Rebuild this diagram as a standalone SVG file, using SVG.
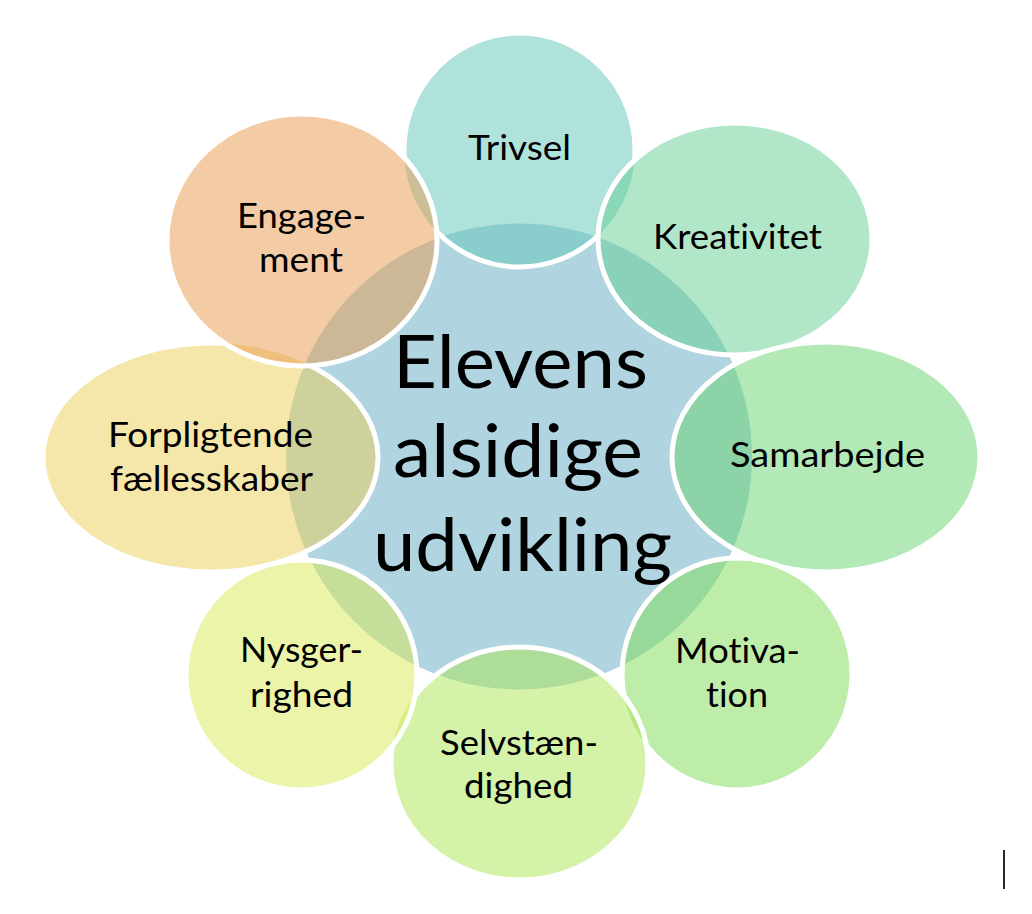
<svg xmlns="http://www.w3.org/2000/svg" xmlns:xlink="http://www.w3.org/1999/xlink" width="1032" height="914" viewBox="0 0 1032 914">
<style>
.lbl { font-family: Lato, "Liberation Sans", sans-serif; font-size: 35px; fill: #000; text-anchor: middle; font-variant-ligatures: none; font-feature-settings: "liga" 0, "clig" 0, "dlig" 0; }
.big { font-size: 74px; }
.ring { fill: none; stroke: #ffffff; stroke-width: 5; }
.fo { fill-opacity: 0.5; }
</style>
<defs>
<ellipse id="e0" cx="519.5" cy="150" rx="115.5" ry="117"/>
<ellipse id="e1" cx="735" cy="239" rx="137" ry="116"/>
<ellipse id="e2" cx="826" cy="457" rx="154" ry="115"/>
<ellipse id="e3" cx="737" cy="674" rx="115" ry="116"/>
<ellipse id="e4" cx="519.5" cy="763.5" rx="128.5" ry="116.5"/>
<ellipse id="e5" cx="301.5" cy="675" rx="115.5" ry="115"/>
<ellipse id="e6" cx="210.5" cy="457.5" rx="167.5" ry="114.5"/>
<ellipse id="e7" cx="302" cy="240" rx="135" ry="126"/>
<mask id="m0" maskUnits="userSpaceOnUse" x="0" y="0" width="1032" height="914">
<rect width="1032" height="914" fill="#fff"/>
<use href="#e1" fill="#000"/><use href="#e2" fill="#000"/><use href="#e3" fill="#000"/><use href="#e4" fill="#000"/><use href="#e5" fill="#000"/><use href="#e6" fill="#000"/><use href="#e7" fill="#000"/>
</mask>
<mask id="m1" maskUnits="userSpaceOnUse" x="0" y="0" width="1032" height="914">
<rect width="1032" height="914" fill="#fff"/>
<use href="#e2" fill="#000"/><use href="#e3" fill="#000"/><use href="#e4" fill="#000"/><use href="#e5" fill="#000"/><use href="#e6" fill="#000"/><use href="#e7" fill="#000"/>
</mask>
<mask id="m2" maskUnits="userSpaceOnUse" x="0" y="0" width="1032" height="914">
<rect width="1032" height="914" fill="#fff"/>
<use href="#e3" fill="#000"/><use href="#e4" fill="#000"/><use href="#e5" fill="#000"/><use href="#e6" fill="#000"/><use href="#e7" fill="#000"/>
</mask>
<mask id="m3" maskUnits="userSpaceOnUse" x="0" y="0" width="1032" height="914">
<rect width="1032" height="914" fill="#fff"/>
<use href="#e4" fill="#000"/><use href="#e5" fill="#000"/><use href="#e6" fill="#000"/><use href="#e7" fill="#000"/>
</mask>
<mask id="m4" maskUnits="userSpaceOnUse" x="0" y="0" width="1032" height="914">
<rect width="1032" height="914" fill="#fff"/>
<use href="#e5" fill="#000"/><use href="#e6" fill="#000"/><use href="#e7" fill="#000"/>
</mask>
<mask id="m5" maskUnits="userSpaceOnUse" x="0" y="0" width="1032" height="914">
<rect width="1032" height="914" fill="#fff"/>
<use href="#e6" fill="#000"/><use href="#e7" fill="#000"/>
</mask>
<mask id="m6" maskUnits="userSpaceOnUse" x="0" y="0" width="1032" height="914">
<rect width="1032" height="914" fill="#fff"/>
<use href="#e7" fill="#000"/>
</mask>
</defs>
<rect width="1032" height="914" fill="#ffffff"/>
<g id="center">
<circle cx="519" cy="456.5" r="233" fill="#b0d4e0"/>
</g>
<g id="node-trivsel">
<use href="#e0" class="fo" fill="rgb(97,197,185)"/>
<use href="#e0" class="ring" mask="url(#m0)"/>
<text class="lbl" x="519.5" y="160" textLength="103" lengthAdjust="spacingAndGlyphs">Trivsel</text>
</g>
<g id="node-kreativitet">
<use href="#e1" class="fo" fill="rgb(99,205,147)"/>
<use href="#e1" class="ring" mask="url(#m1)"/>
<text class="lbl" x="737.5" y="249" textLength="169" lengthAdjust="spacingAndGlyphs">Kreativitet</text>
</g>
<g id="node-samarbejde">
<use href="#e2" class="fo" fill="rgb(103,211,111)"/>
<use href="#e2" class="ring" mask="url(#m2)"/>
<text class="lbl" x="827.5" y="467" textLength="195" lengthAdjust="spacingAndGlyphs">Samarbejde</text>
</g>
<g id="node-motivation">
<use href="#e3" class="fo" fill="rgb(125,219,85)"/>
<use href="#e3" class="ring" mask="url(#m3)"/>
<text class="lbl" x="737.5" y="663" textLength="125" lengthAdjust="spacingAndGlyphs">Motiva-</text>
<text class="lbl" x="737" y="707" textLength="62" lengthAdjust="spacingAndGlyphs">tion</text>
</g>
<g id="node-selvstaendighed">
<use href="#e4" class="fo" fill="rgb(169,229,81)"/>
<use href="#e4" class="ring" mask="url(#m4)"/>
<text class="lbl" x="519" y="755" textLength="158" lengthAdjust="spacingAndGlyphs">Selvstæn-</text>
<text class="lbl" x="518.5" y="798" textLength="109" lengthAdjust="spacingAndGlyphs">dighed</text>
</g>
<g id="node-nysgerrighed">
<use href="#e5" class="fo" fill="rgb(217,233,85)"/>
<use href="#e5" class="ring" mask="url(#m5)"/>
<text class="lbl" x="301.5" y="662" textLength="123" lengthAdjust="spacingAndGlyphs">Nysger-</text>
<text class="lbl" x="301.5" y="707" textLength="103" lengthAdjust="spacingAndGlyphs">righed</text>
</g>
<g id="node-forpligtende">
<use href="#e6" class="fo" fill="rgb(235,205,85)"/>
<use href="#e6" class="ring" mask="url(#m6)"/>
<text class="lbl" x="210.5" y="447" textLength="205" lengthAdjust="spacingAndGlyphs">Forpligtende</text>
<text class="lbl" x="211.5" y="491" textLength="203" lengthAdjust="spacingAndGlyphs">fællesskaber</text>
</g>
<g id="node-engagement">
<use href="#e7" class="fo" fill="rgb(231,153,77)"/>
<use href="#e7" class="ring"/>
<text class="lbl" x="301.5" y="228" textLength="129" lengthAdjust="spacingAndGlyphs">Engage-</text>
<text class="lbl" x="301" y="272" textLength="84" lengthAdjust="spacingAndGlyphs">ment</text>
</g>
<g id="center-label">
<text class="lbl big" x="520.5" y="388" textLength="255" lengthAdjust="spacingAndGlyphs">Elevens</text>
<text class="lbl big" x="518" y="477" textLength="250" lengthAdjust="spacingAndGlyphs">alsidige</text>
<text class="lbl big" x="522.5" y="571" textLength="299" lengthAdjust="spacingAndGlyphs">udvikling</text>
</g>
<g id="connectors"></g>
<line x1="1004" y1="850" x2="1004" y2="889" stroke="#2a2a2a" stroke-width="2"/>
</svg>
